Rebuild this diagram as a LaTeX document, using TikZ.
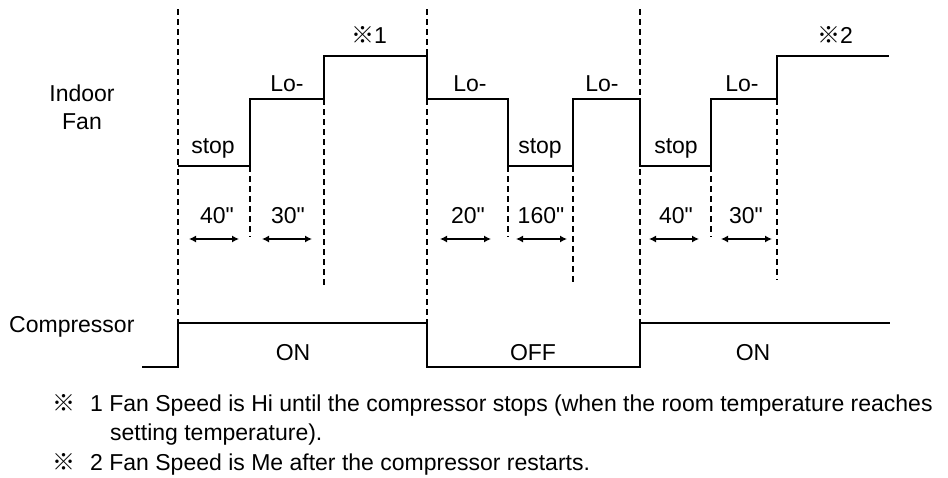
\documentclass[tikz,border=0pt]{standalone}
\usepackage{fontspec}
\setmainfont{Liberation Sans}[Ligatures=TeXOff]
\newfontfamily\cjkmark{Noto Sans CJK JP}
\usetikzlibrary{arrows.meta}
\begin{document}
\begin{tikzpicture}[x=1pt,y=-1pt,
  sig/.style={line width=2pt, line join=miter},
  guide/.style={line width=1.3pt, dash pattern=on 6pt off 4pt},
  dimline/.style={line width=1.3pt, {Latex[length=7pt,width=7pt]}-{Latex[length=7pt,width=7pt]}},
  lbl/.style={anchor=base, inner sep=0pt, font=\fontsize{23}{27}\selectfont},
  note/.style={anchor=base west, inner sep=0pt, font=\fontsize{23}{27}\selectfont}]
\useasboundingbox (0,0) rectangle (948,477);
% long guides
\draw[guide] (178,9) -- (178,323);
\draw[guide] (427,9) -- (427,323);
\draw[guide] (640,9) -- (640,323);
% short guides
\draw[guide] (250,166) -- (250,237);
\draw[guide] (324,99) -- (324,285);
\draw[guide] (508,166) -- (508,237);
\draw[guide] (573,166) -- (573,283);
\draw[guide] (711,166) -- (711,237);
\draw[guide] (777,99) -- (777,280);
% fan signal
\draw[sig] (178,166) -- (250,166) -- (250,99) -- (324,99) -- (324,56) -- (427,56)
  -- (427,99) -- (508,99) -- (508,166) -- (573,166) -- (573,99) -- (640,99)
  -- (640,166) -- (711,166) -- (711,99) -- (777,99) -- (777,56) -- (889,56);
% compressor signal
\draw[sig] (142,367) -- (178,367) -- (178,323) -- (427,323) -- (427,367)
  -- (640,367) -- (640,323) -- (890,323);
% duration arrows
\draw[dimline] (189,239) -- (239,239);
\draw[dimline] (262,239) -- (312,239);
\draw[dimline] (440,239) -- (491,239);
\draw[dimline] (516,239) -- (567,239);
\draw[dimline] (649,239) -- (699,239);
\draw[dimline] (721,239) -- (772,239);
% fan labels
\node[lbl] (indoor) at (82,101) {Indoor};
\node[lbl] (fan) at (82,129) {Fan};
\node[lbl] (s1) at (213,153) {stop};
\node[lbl] (l1) at (287,91) {Lo-};
\node[lbl] (m1) at (369,43) {{\cjkmark ※}1};
\node[lbl] (l2) at (470,91) {Lo-};
\node[lbl] (s2) at (540,153) {stop};
\node[lbl] (l3) at (602,91) {Lo-};
\node[lbl] (s3) at (676,153) {stop};
\node[lbl] (l4) at (742,91) {Lo-};
\node[lbl] (m2) at (835,43) {{\cjkmark ※}2};
% durations
\node[lbl] (d1) at (217,223) {40"};
\node[lbl] (d2) at (288,223) {30"};
\node[lbl] (d3) at (468,223) {20"};
\node[lbl] (d4) at (541,223) {160"};
\node[lbl] (d5) at (676,223) {40"};
\node[lbl] (d6) at (746,223) {30"};
% compressor labels
\node[lbl, anchor=base west] (comp) at (9,332) {Compressor};
\node[lbl] (on1) at (293,360) {ON};
\node[lbl] (off) at (533,360) {OFF};
\node[lbl] (on2) at (753,360) {ON};
% notes
\node[note] (n1m) at (52,411) {\cjkmark ※};
\node[note] (n1) at (90,411) {1 Fan Speed is Hi until the compressor stops (when the room temperature reaches};
\node[note] (n1b) at (110,440) {setting temperature).};
\node[note] (n2m) at (52,470) {\cjkmark ※};
\node[note] (n2) at (90,470) {2 Fan Speed is Me after the compressor restarts.};
\end{tikzpicture}
\end{document}
